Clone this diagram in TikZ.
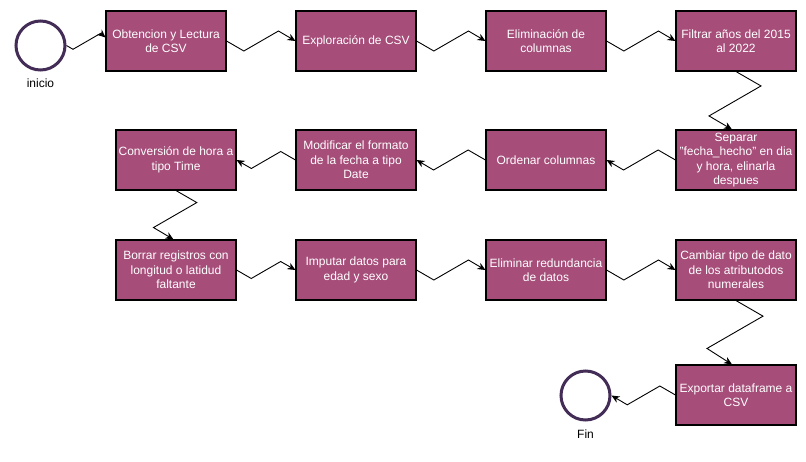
\documentclass[tikz,border=0pt]{standalone}
\usepackage{fontspec}
\setmainfont{Liberation Sans}
\usetikzlibrary{arrows.meta,calc}
\definecolor{boxfill}{HTML}{A64D79}
\definecolor{ringcol}{HTML}{432D57}
\tikzset{
  stepbox/.style={draw=black, line width=1.1pt, fill=boxfill, text=white,
    minimum width=120pt, minimum height=60pt, inner sep=0pt, align=center,
    font=\fontsize{12}{14.4}\selectfont},
  ring/.style={circle, draw=ringcol, line width=3pt, fill=white, minimum size=49pt, inner sep=0pt},
  lbl/.style={font=\fontsize{12}{14.4}\selectfont, text=black, inner sep=0pt},
  conn/.style={draw=black, line width=0.9pt, line join=miter,
    -{Stealth[length=8pt,width=7pt,inset=2.5pt]}}
}
\begin{document}
\begin{tikzpicture}[x=1pt,y=-1pt]
\useasboundingbox[fill=white] (0,0) rectangle (806,461);
% start / end
\node[ring] (ini) at (40.5,45.5) {};
\node[lbl] (inilbl) at (40.5,83) {inicio};
\node[ring] (fin) at (585.5,395.5) {};
\node[lbl] (finlbl) at (585.5,434) {Fin};
% row 1
\node[stepbox] (b1) at (166,41) {Obtencion y Lectura\\de CSV};
\node[stepbox] (b2) at (356,41) {Exploración de CSV};
\node[stepbox] (b3) at (546,41) {Eliminación de\\columnas};
\node[stepbox] (b4) at (736,41) {Filtrar años del 2015\\al 2022};
% row 2
\node[stepbox] (b5) at (736,160) {Separar\\"fecha\_hecho" en dia\\y hora, elinarla\\despues};
\node[stepbox] (b6) at (546,160) {Ordenar columnas};
\node[stepbox] (b7) at (356,160) {Modificar el formato\\de la fecha a tipo\\Date};
\node[stepbox] (b8) at (176,160) {Conversión de hora a\\tipo Time};
% row 3
\node[stepbox] (b9) at (176,270) {Borrar registros con\\longitud o latidud\\faltante};
\node[stepbox] (b10) at (356,270) {Imputar datos para\\edad y sexo};
\node[stepbox] (b11) at (546,270) {Eliminar redundancia\\de datos};
\node[stepbox] (b12) at (736,270) {Cambiar tipo de dato\\de los atributodos\\numerales};
% row 4
\node[stepbox] (b13) at (736,395) {Exportar dataframe a\\CSV};
% connectors
\draw[conn] (ini.east) -- ++(6.5,3.8) -- ++(27.7,-16) -- ($(b1.west)+(0,-3.5)$);
\draw[conn] (b1.east) -- ++(17.3,10) -- ++(34.6,-20) -- (b2.west);
\draw[conn] (b2.east) -- ++(17.3,10) -- ++(34.6,-20) -- (b3.west);
\draw[conn] (b3.east) -- ++(17.3,10) -- ++(34.6,-20) -- (b4.west);
\draw[conn] (b4.south) -- ++(25,14.4) -- ++(-52,30) -- ($(b5.north)+(-4,0)$);
\draw[conn] (b5.west) -- ++(-17.3,-10) -- ++(-34.6,20) -- (b6.east);
\draw[conn] (b6.west) -- ++(-17.3,-10) -- ++(-34.6,20) -- (b7.east);
\draw[conn] (b7.west) -- ++(-14.7,-8.5) -- ++(-29.4,17) -- (b8.east);
\draw[conn] (b8.south) -- ++(20.8,12) -- ++(-43.3,25) -- ($(b9.north)+(-2.5,0)$);
\draw[conn] (b9.east) -- ++(14.7,8.5) -- ++(29.4,-17) -- (b10.west);
\draw[conn] (b10.east) -- ++(17.3,10) -- ++(34.6,-20) -- (b11.west);
\draw[conn] (b11.east) -- ++(17.3,10) -- ++(34.6,-20) -- (b12.west);
\draw[conn] (b12.south) -- ++(27,15.6) -- ++(-56,32.3) -- ($(b13.north)+(-4,0)$);
\draw[conn] (b13.west) -- ++(-15.6,-9) -- ++(-32.6,18.8) -- (fin.east);
\end{tikzpicture}
\end{document}
